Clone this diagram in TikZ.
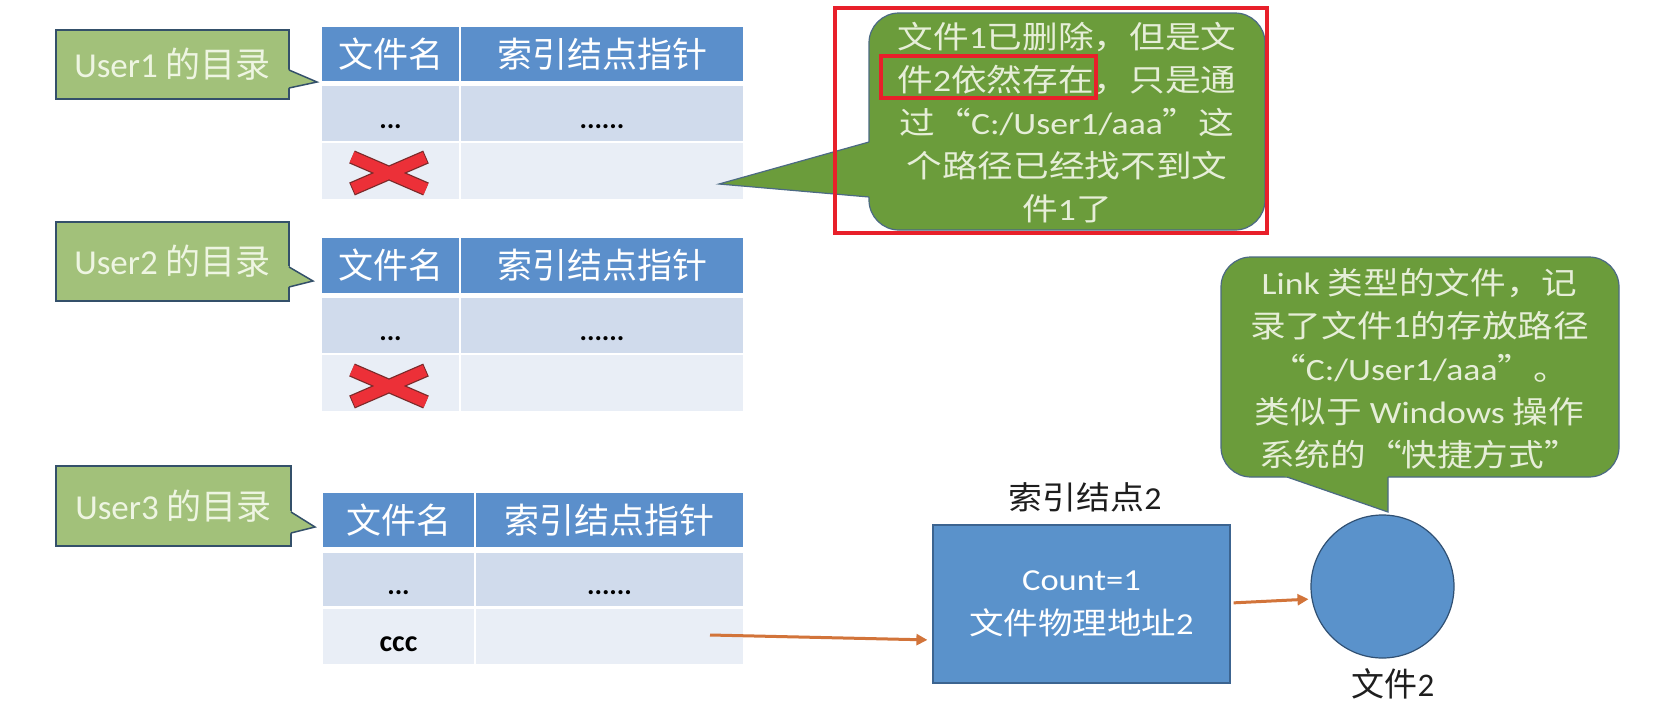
\documentclass[tikz,border=0pt]{standalone}
\usepackage{fontspec}
\setmainfont{Carlito}
\newfontfamily\cjk{Noto Sans CJK SC}
\usetikzlibrary{arrows.meta,calc}
\definecolor{hdrblue}{HTML}{5B8FCB}
\definecolor{rowa}{HTML}{D0DBEC}
\definecolor{rowb}{HTML}{E9EEF6}
\definecolor{ugreen}{HTML}{A2C17A}
\definecolor{uborder}{HTML}{34506A}
\definecolor{utext}{HTML}{EEF5E2}
\definecolor{bgreen}{HTML}{6B9C3B}
\definecolor{bborder}{HTML}{4C6A84}
\definecolor{btextc}{HTML}{E6EED8}
\definecolor{boxblue}{HTML}{5A92CB}
\definecolor{boxborder}{HTML}{3C6490}
\definecolor{arrowor}{HTML}{D2743A}
\definecolor{xred}{HTML}{EC3038}
\definecolor{xdark}{HTML}{7A2A2A}
\definecolor{hired}{HTML}{E8202A}
\definecolor{darktext}{HTML}{1E1E1E}
\newcommand\redcross[1]{%
  \begin{scope}[shift={(#1)}]
    \draw[xdark, line width=14pt] (-37,-16) -- (37,16) (-37,16) -- (37,-16);
    \draw[xred, line width=11.5pt, shorten <=1pt, shorten >=1pt] (-37,-16) -- (37,16) (-37,16) -- (37,-16);
  \end{scope}}
\begin{document}
\begin{tikzpicture}[x=1pt,y=-1pt,
  hcell/.style={fill=hdrblue, inner sep=0pt, text=white, font=\cjk\fontsize{35}{40}\selectfont},
  acell/.style={fill=rowa, inner sep=0pt, text=black, text height=30pt, text depth=0pt, font=\bfseries\fontsize{28}{32}\selectfont},
  bcell/.style={fill=rowb, inner sep=0pt, text=black, text height=30pt, text depth=0pt, font=\bfseries\fontsize{30}{34}\selectfont},
  ucall/.style={fill=ugreen, draw=uborder, line width=1.5pt, inner sep=0pt, text=utext, font=\fontsize{35}{40}\selectfont},
  upoint/.style={draw=uborder, line width=1.5pt, line join=miter},
  bcall/.style={fill=bgreen, draw=bborder, line width=1.2pt, rounded corners=30pt, inner sep=0pt},
  bpoint/.style={draw=bborder, line width=1.2pt},
  btext/.style={align=center, text=btextc, inner sep=0pt, xscale=1.15, font=\fontsize{31}{43}\selectfont},
  redbox/.style={draw=hired, line width=4pt, inner sep=0pt},
  arr/.style={draw=arrowor, line width=3pt, -{Triangle[length=11pt,width=11pt]}},
  lbl/.style={text=darktext, inner sep=0pt}
]
\useasboundingbox[fill=white] (0,0) rectangle (1679,723);

% ---------- Table 1 ----------
\node[hcell, minimum width=137pt, minimum height=54pt] (t1h1) at (390.5,54) {文件名};
\node[hcell, minimum width=282pt, minimum height=54pt] (t1h2) at (602,54) {索引结点指针};
\node[acell, minimum width=137pt, minimum height=55pt] (t1a1) at (390.5,113.5) {...};
\node[acell, minimum width=282pt, minimum height=55pt] (t1a2) at (602,113.5) {......};
\node[bcell, minimum width=137pt, minimum height=56pt] (t1b1) at (390.5,171) {};
\node[bcell, minimum width=282pt, minimum height=56pt] (t1b2) at (602,171) {};
\redcross{389,173}

% ---------- Table 2 ----------
\node[hcell, minimum width=137pt, minimum height=55pt] (t2h1) at (390.5,265.5) {文件名};
\node[hcell, minimum width=282pt, minimum height=55pt] (t2h2) at (602,265.5) {索引结点指针};
\node[acell, minimum width=137pt, minimum height=55pt] (t2a1) at (390.5,325.5) {...};
\node[acell, minimum width=282pt, minimum height=55pt] (t2a2) at (602,325.5) {......};
\node[bcell, minimum width=137pt, minimum height=56pt] (t2b1) at (390.5,383) {};
\node[bcell, minimum width=282pt, minimum height=56pt] (t2b2) at (602,383) {};
\redcross{389,386}

% ---------- Table 3 ----------
\node[hcell, minimum width=151pt, minimum height=54pt] (t3h1) at (398.5,520) {文件名};
\node[hcell, minimum width=267pt, minimum height=54pt] (t3h2) at (609.5,520) {索引结点指针};
\node[acell, minimum width=151pt, minimum height=53pt] (t3a1) at (398.5,579.5) {...};
\node[acell, minimum width=267pt, minimum height=53pt] (t3a2) at (609.5,579.5) {......};
\node[bcell, minimum width=151pt, minimum height=55pt] (t3b1) at (398.5,636.5) {ccc};
\node[bcell, minimum width=267pt, minimum height=55pt] (t3b2) at (609.5,636.5) {};

% ---------- User callouts ----------
\node[ucall, minimum width=233pt, minimum height=69pt] (u1) at (172.5,64.5) {User1 {\cjk 的目录}};
\fill[ugreen] (287,69.1) -- (317,82) -- (287,88.4) -- cycle;
\draw[upoint] (289,70) -- (317,82) -- (289,88);

\node[ucall, minimum width=233pt, minimum height=79pt] (u2) at (172.5,261.5) {\raisebox{2pt}{User2 {\cjk 的目录}}};
\fill[ugreen] (287,265.3) -- (313,281) -- (287,287.3) -- cycle;
\draw[upoint] (289,267) -- (313,281) -- (289,287);

\node[ucall, minimum width=235pt, minimum height=80pt] (u3) at (173.5,506) {\raisebox{3pt}{User3 {\cjk 的目录}}};
\fill[ugreen] (289,510) -- (315,527) -- (289,533.6) -- cycle;
\draw[upoint] (291,512) -- (315,527) -- (291,533);

% ---------- Big callout (deleted) ----------
\node[bcall, minimum width=396pt, minimum height=217pt] (bc1) at (1067,121.5) {};
\fill[bgreen] (719,184) -- (871.5,141.3) -- (871.5,197.2) -- cycle;
\draw[bpoint] (869,142) -- (719,184) -- (869,197);
\node[btext] (bc1t) at (1067,123) {{\cjk 文件}1{\cjk 已删除，但是文}\\
{\cjk 件}2{\cjk 依然存在，只是通}\\
{\cjk 过“}C:/User1/aaa{\cjk ”这}\\
{\cjk 个路径已经找不到文}\\
{\cjk 件}1{\cjk 了}};

% ---------- Link callout ----------
\node[bcall, minimum width=398pt, minimum height=220pt] (bc2) at (1420,367) {};
\fill[bgreen] (1281,475) -- (1388,512) -- (1388,475) -- cycle;
\draw[bpoint] (1287,477) -- (1388,512) -- (1388,477);
\node[btext] (bc2t) at (1419.5,368.5) {Link {\cjk 类型的文件，记}\\
{\cjk 录了文件}1{\cjk 的存放路径}\\
{\cjk “}C:/User1/aaa{\cjk ”。}\\
{\cjk 类似于} Windows {\cjk 操作}\\
{\cjk 系统的“快捷方式”}};

% ---------- Index node 2 ----------
\node[fill=boxblue, draw=boxborder, line width=1.2pt, minimum width=297pt, minimum height=158pt, inner sep=0pt] (ibox) at (1081.5,604) {};
\node[align=center, text=white, inner sep=0pt, xscale=1.13, font=\fontsize{30.5}{44}\selectfont] (iboxt) at (ibox.center) {Count=1\\{\cjk 文件物理地址}2};
\node[lbl, xscale=1.06, font=\fontsize{32}{38}\selectfont] (ilbl) at (1085,497) {{\cjk 索引结点}2};

% ---------- File 2 ----------
\node[circle, fill=boxblue, draw=boxborder!80!black, line width=1.2pt, minimum size=143pt, inner sep=0pt] (f2) at (1382.5,586.5) {};
\node[lbl, font=\fontsize{33}{38}\selectfont] (f2lbl) at (1393,684) {{\cjk 文件}2};

% ---------- Arrows ----------
\coordinate (a1s) at (710,635);
\draw[arr, shorten >=5pt] (a1s) -- ([yshift=-36pt]ibox.west);
\draw[arr, shorten <=3pt, shorten >=3pt] ([yshift=1pt]ibox.east) -- (f2.190);

% ---------- Red highlight boxes ----------
\node[redbox, minimum width=432pt, minimum height=225pt] (hl1) at (1051,120.5) {};
\node[redbox, minimum width=215pt, minimum height=42pt] (hl2) at (988.5,77) {};
\end{tikzpicture}
\end{document}
